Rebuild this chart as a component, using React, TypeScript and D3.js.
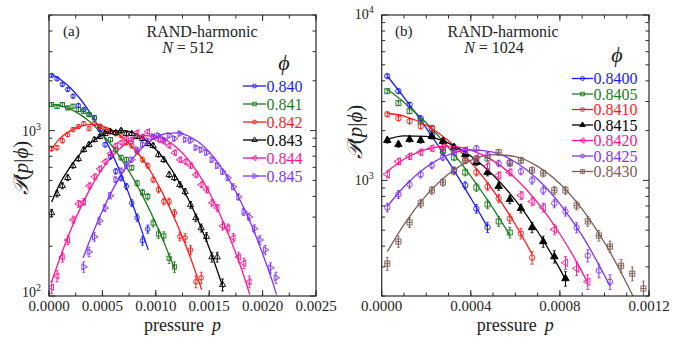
import React from 'react';
import * as d3 from 'd3';

// ---------- data ----------
const LEFT_BINS = [0.000025,0.000075,0.000125,0.000175,0.000225,0.000275,0.000325,0.000375,0.000425,0.000475,0.000525,0.000575,0.000625,0.000675,0.000725,0.000775,0.000825,0.000875,0.000925,0.000975,0.001025,0.001075,0.001125,0.001175,0.001225,0.001275,0.001325,0.001375,0.001425,0.001475,0.001525,0.001575,0.001625,0.001675,0.001725,0.001775,0.001825,0.001875,0.001925,0.001975,0.002025,0.002075,0.002125];
const RIGHT_BINS = [0.000025,0.000075,0.000125,0.000175,0.000225,0.000275,0.000325,0.000375,0.000425,0.000475,0.000525,0.000575,0.000625,0.000675,0.000725,0.000775,0.000825,0.000875,0.000925,0.000975,0.001025,0.001075,0.001125,0.001175];

const LEFT_LABELS = ['0.840','0.841','0.842','0.843','0.844','0.845'];
const LEFT_START = [0,0,0,0,0,6];
const L840 = [2154,2057,1900,1772,1614,1418,1341,1250,1199,1014,822,696,567,517,460,365,298,216,254];
const L841 = [1437,1400,1437,1372,1405,1340,1308,1250,1194,1062,990,882,767,686,667,596,481,423,399,276,237,231,169,150];
const L842 = [778,789,870,946,1014,1057,1103,1028,1103,1057,1014,986,959,933,846,811,746,667,614,505,439,373,373,318,229,225,190,122,129];
const L843 = [318,415,464,519,614,676,767,823,882,920,959,986,972,1000,959,959,920,894,834,811,716,667,541,519,471,427,356,297,258,228,172,172,117];
const L844 = [113,132,172,218,289,361,371,464,526,588,649,726,811,846,894,882,972,920,986,920,882,858,811,736,667,649,614,541,471,439,366,341,265,258,225,172,158,122];
const L845 = [150,185,228,285,341,404,505,572,614,667,767,823,870,920,933,882,933,894,959,882,870,789,767,736,667,614,565,519,458,398,323,301,255,218,190,148,129];

const FL840 = [[0.000025,2190],[0.0001,2051],[0.0002,1815],[0.0003,1531],[0.0004,1238],[0.0005,957],[0.0006,706],[0.0007,497],[0.0008,335],[0.0009,216],[0.00093,190]];
const FL841 = [[0.000025,1437],[0.0001,1415],[0.0002,1347],[0.0003,1240],[0.0004,1104],[0.0005,951],[0.0006,792],[0.0007,639],[0.0008,499],[0.0009,376],[0.001,275],[0.0011,194],[0.00118,144]];
const FL842 = [[0.000025,775],[0.0001,894],[0.0002,998],[0.0003,1066],[0.0004,1090],[0.0005,1066],[0.0006,1000],[0.0007,897],[0.0008,771],[0.0009,640],[0.001,499],[0.0011,376],[0.0012,271],[0.0013,188],[0.0014,124],[0.00143,109]];
const FL843 = [[0.000025,370],[0.0001,475],[0.0002,605],[0.0003,736],[0.0004,853],[0.0005,942],[0.0006,994],[0.0007,1001],[0.0008,962],[0.0009,882],[0.001,771],[0.0011,644],[0.0012,512],[0.0013,390],[0.0014,282],[0.0015,195],[0.0016,128],[0.00163,112]];
const FL844 = [[0.000025,122],[0.0001,168],[0.0002,248],[0.0003,347],[0.0004,463],[0.0005,588],[0.0006,711],[0.0007,817],[0.0008,896],[0.0009,933],[0.001,925],[0.0011,874],[0.0012,785],[0.0013,672],[0.0014,547],[0.0015,424],[0.0016,312],[0.0017,219],[0.0018,147],[0.00188,102]];
const FL845 = [[0.00032,170],[0.0004,231],[0.0005,328],[0.0006,444],[0.0007,571],[0.0008,699],[0.0009,817],[0.001,909],[0.0011,962],[0.0012,970],[0.0013,931],[0.0014,853],[0.0015,743],[0.0016,616],[0.0017,487],[0.0018,368],[0.0019,264],[0.002,180],[0.0021,118],[0.00213,102]];

const RIGHT_LABELS = ['0.8400','0.8405','0.8410','0.8415','0.8420','0.8425','0.8430'];
const R8400 = [4268,3463,2869,2375,1900,1479,1150,933,674,521];
const R8405 = [3463,2929,2620,2278,2066,1520,1378,1118,907,716,565,484];
const R8410 = [2512,2375,2278,2125,2066,1723,1563,1322,1118,920,778,588,477,341];
const R8415 = [1748,1652,1772,1748,1848,1723,1585,1437,1285,1118,920,767,677,519,427,346,255];
const R8420 = [1087,1304,1398,1479,1563,1585,1541,1520,1360,1216,1072,1118,811,746,686,505,318,293,244];
const R8425 = [686,823,946,1087,1233,1378,1479,1520,1563,1418,1268,1285,1134,1000,870,726,649,519,351,285,244];
const R8430 = [314,427,557,726,870,972,1134,1322,1341,1360,1479,1268,1322,1150,1103,870,870,705,565,464,398,305,273,222];

const FR8400 = [[0.000025,4276],[0.0001,3175],[0.00015,2576],[0.0002,2068],[0.00025,1645],[0.0003,1297],[0.00035,1011],[0.0004,782],[0.00045,600],[0.000475,522]];
const FR8405 = [[0.000025,3562],[0.0001,2970],[0.0002,2221],[0.0003,1578],[0.0004,1062],[0.0005,677],[0.000575,466]];
const FR8410 = [[0.000025,2547],[0.0001,2449],[0.0002,2154],[0.0003,1735],[0.0004,1285],[0.0005,870],[0.0006,541],[0.000675,358]];
const FR8415 = [[0.000025,1772],[0.0001,1861],[0.0002,1845],[0.0003,1680],[0.0004,1406],[0.0005,1077],[0.0006,759],[0.0007,491],[0.0008,291],[0.000825,252]];
const FR8420 = [[0.000025,1134],[0.0001,1341],[0.0002,1541],[0.0003,1610],[0.0004,1526],[0.0005,1316],[0.0006,1030],[0.0007,734],[0.0008,474],[0.0009,279],[0.000925,240]];
const FR8425 = [[0.000025,696],[0.0001,915],[0.0002,1204],[0.0003,1429],[0.0004,1531],[0.0005,1480],[0.0006,1291],[0.0007,1017],[0.0008,722],[0.0009,463],[0.001,267],[0.001025,230]];
const FR8430 = [[0.000025,371],[0.0001,541],[0.0002,811],[0.0003,1092],[0.0004,1320],[0.0005,1433],[0.0006,1392],[0.0007,1216],[0.0008,954],[0.0009,670],[0.001,421],[0.0011,238],[0.00113,197]];

const LEFT_XTICKS = [0, 0.0005, 0.001, 0.0015, 0.002, 0.0025];
const LEFT_XTICK_LABELS = ['0.0000','0.0005','0.0010','0.0015','0.0020','0.0025'];
const RIGHT_XTICKS = [0, 0.0004, 0.0008, 0.0012];
const RIGHT_XTICK_LABELS = ['0.0000','0.0004','0.0008','0.0012'];

// ---------- styles ----------
const COLORS = ['#1c1cff', '#1f7a1f', '#ff1a1a', '#000000', '#ff1493', '#7f33ff', '#7d5e57'];
const SERIF = "'Liberation Serif', 'Times New Roman', Tinos, 'DejaVu Serif', serif";
const TXT = { fontFamily: SERIF };

type Series = { label: string; color: string; shape: string; bins: number[]; start: number; values: number[]; fit: number[][] };

function Marker({ shape, color, x, y, r }: { shape: string; color: string; x: number; y: number; r: number }) {
  const area = Math.PI * r * r;
  const sw = 0.9;
  if (shape === 'circle') return <circle cx={x} cy={y} r={r * 0.85} fill="none" stroke={color} strokeWidth={sw} />;
  if (shape === 'square') return <rect x={x - r * 0.78} y={y - r * 0.78} width={r * 1.56} height={r * 1.56} fill="none" stroke={color} strokeWidth={sw} />;
  if (shape === 'squareplus') return (
    <g stroke={color} strokeWidth={sw} fill="none">
      <rect x={x - r * 0.8} y={y - r * 0.8} width={r * 1.6} height={r * 1.6} />
      <line x1={x - r * 0.8} x2={x + r * 0.8} y1={y} y2={y} />
      <line x1={x} x2={x} y1={y - r * 0.8} y2={y + r * 0.8} />
    </g>
  );
  const tri = d3.symbol(d3.symbolTriangle, area * 0.75)() as string;
  if (shape === 'triangle') return <path d={tri} transform={`translate(${x},${y})`} fill="none" stroke={color} strokeWidth={sw} />;
  if (shape === 'ftriangle') return <path d={tri} transform={`translate(${x},${y})`} fill={color} stroke={color} strokeWidth={sw} />;
  if (shape === 'ltriangle') return <path d={tri} transform={`translate(${x},${y}) rotate(-90)`} fill="none" stroke={color} strokeWidth={sw} />;
  if (shape === 'rtriangle') return <path d={tri} transform={`translate(${x},${y}) rotate(90)`} fill="none" stroke={color} strokeWidth={sw} />;
  return null;
}

type PanelCfg = {
  id: string;
  left: number; right: number; top: number; bottom: number;
  xDomain: [number, number]; yDomain: [number, number];
  xTicks: number[]; xTickLabels: string[]; xMinorStep: number;
  yMajor: number[]; yMajorLabels: string[]; yLabelDy: number[];
  series: Series[];
  r: number; errK: number;
  tag: string; title1: string; nValue: string;
  tagX: number; titleX: number; nX: number;
  phiX: number; phiY: number;
  legX1: number; legX2: number; legY0: number; legDy: number;
  yTitleX: number; yTitleY: number;
};

function Panel({ c }: { c: PanelCfg }) {
  const x = d3.scaleLinear().domain(c.xDomain).range([c.left, c.right]);
  const y = d3.scaleLog().domain(c.yDomain).range([c.bottom, c.top]);
  const line = d3.line<number[]>().x(d => x(d[0])).y(d => y(d[1])).curve(d3.curveMonotoneX);

  const minorX = d3.range(c.xDomain[0], c.xDomain[1] + 1e-9, c.xMinorStep);
  const minorY: number[] = [];
  for (let dec = 100; dec < c.yDomain[1]; dec *= 10) {
    for (let m = 1; m < 10; m++) {
      const v = dec * m;
      if (v >= c.yDomain[0] - 1e-6 && v <= c.yDomain[1] + 1e-6 && !c.yMajor.includes(v)) minorY.push(v);
    }
  }
  const cx = (c.left + c.right) / 2;
  return (
    <g>
      <defs>
        <clipPath id={`clip-${c.id}`}>
          <rect x={c.left} y={c.top} width={c.right - c.left} height={c.bottom - c.top} />
        </clipPath>
      </defs>
      <g clipPath={`url(#clip-${c.id})`}>
        {c.series.map((s, i) => (
          <path key={'f' + i} d={line(s.fit) as string} fill="none" stroke={s.color} strokeWidth={1.3} />
        ))}
        {c.series.map((s, i) => (
          <g key={'p' + i}>
            {s.values.map((v, j) => {
              const px = x(s.bins[s.start + j]);
              const rel = c.errK / Math.sqrt(v);
              const y1 = y(v * (1 + rel)), y2 = y(v * (1 - rel));
              return (
                <g key={j}>
                  <line x1={px} x2={px} y1={y1} y2={y2} stroke={s.color} strokeWidth={1} />
                  <line x1={px - 1.5} x2={px + 1.5} y1={y1} y2={y1} stroke={s.color} strokeWidth={0.8} />
                  <line x1={px - 1.5} x2={px + 1.5} y1={y2} y2={y2} stroke={s.color} strokeWidth={0.8} />
                  <Marker shape={s.shape} color={s.color} x={px} y={y(v)} r={c.r} />
                </g>
              );
            })}
          </g>
        ))}
      </g>
      <rect x={c.left} y={c.top} width={c.right - c.left} height={c.bottom - c.top} fill="none" stroke="#2a2a2a" strokeWidth={1.2} />
      {minorX.map((t, i) => (
        <g key={'mx' + i} stroke="#2a2a2a" strokeWidth={1}>
          <line x1={x(t)} x2={x(t)} y1={c.bottom} y2={c.bottom - 3.5} />
          <line x1={x(t)} x2={x(t)} y1={c.top} y2={c.top + 3.5} />
        </g>
      ))}
      {c.xTicks.map((t, i) => (
        <g key={'x' + i}>
          <line x1={x(t)} x2={x(t)} y1={c.bottom} y2={c.bottom - 6} stroke="#2a2a2a" />
          <line x1={x(t)} x2={x(t)} y1={c.top} y2={c.top + 6} stroke="#2a2a2a" />
          <text x={x(t)} y={c.bottom + 15} textAnchor="middle" fontSize={15} style={TXT} fill="#222">{c.xTickLabels[i]}</text>
        </g>
      ))}
      {minorY.map((t, i) => (
        <g key={'my' + i} stroke="#2a2a2a" strokeWidth={1}>
          <line x1={c.left} x2={c.left + 3.5} y1={y(t)} y2={y(t)} />
          <line x1={c.right} x2={c.right - 3.5} y1={y(t)} y2={y(t)} />
        </g>
      ))}
      {c.yMajor.map((t, i) => (
        <g key={'y' + i}>
          <line x1={c.left} x2={c.left + 6} y1={y(t)} y2={y(t)} stroke="#2a2a2a" />
          <line x1={c.right} x2={c.right - 6} y1={y(t)} y2={y(t)} stroke="#2a2a2a" />
          <text x={c.left - 8} y={y(t) + c.yLabelDy[i]} textAnchor="end" fontSize={14} style={TXT} fill="#222">
            10<tspan dy={-6} fontSize={10}>{c.yMajorLabels[i]}</tspan>
          </text>
        </g>
      ))}
      <text x={cx} y={331} textAnchor="middle" fontSize={18} style={TXT} fill="#222">
        pressure<tspan dx={8} fontStyle="italic">p</tspan>
      </text>
      <text transform={`translate(${c.yTitleX},${c.yTitleY}) rotate(-90)`} textAnchor="middle" fontSize={21} style={TXT} fill="#222">
        <tspan style={{ fontFamily: "'DejaVu Serif', serif" }} fontStyle="italic">𝒫</tspan>(<tspan fontStyle="italic">p</tspan>|<tspan fontStyle="italic">ϕ</tspan>)
      </text>
      <text x={c.tagX} y={36} fontSize={15} style={TXT} fill="#222">{c.tag}</text>
      <text x={c.titleX} y={37} textAnchor="middle" fontSize={16} style={TXT} fill="#222">{c.title1}</text>
      <text x={c.nX} y={53} textAnchor="middle" fontSize={16} style={TXT} fill="#222">
        <tspan fontStyle="italic">N</tspan> = {c.nValue}
      </text>
      <text x={c.phiX} y={c.phiY} textAnchor="middle" fontSize={22} fontStyle="italic" style={TXT} fill="#222">ϕ</text>
      {c.series.map((s, i) => {
        const ly = c.legY0 + i * c.legDy;
        return (
          <g key={'l' + i}>
            <line x1={c.legX1} x2={c.legX2} y1={ly} y2={ly} stroke={s.color} strokeWidth={1.3} />
            <Marker shape={s.shape} color={s.color} x={(c.legX1 + c.legX2) / 2} y={ly} r={2.3} />
            <text x={c.legX2 + 0.5} y={ly + 5.5} fontSize={16} style={TXT} fill={s.color}>{s.label}</text>
          </g>
        );
      })}
    </g>
  );
}

const LEFT_VALUES = [L840, L841, L842, L843, L844, L845];
const LEFT_FITS = [FL840, FL841, FL842, FL843, FL844, FL845];
const LEFT_SHAPES = ['circle', 'square', 'circle', 'triangle', 'ltriangle', 'rtriangle'];
const RIGHT_VALUES = [R8400, R8405, R8410, R8415, R8420, R8425, R8430];
const RIGHT_FITS = [FR8400, FR8405, FR8410, FR8415, FR8420, FR8425, FR8430];
const RIGHT_SHAPES = ['circle', 'square', 'circle', 'ftriangle', 'ltriangle', 'circle', 'squareplus'];

const leftCfg: PanelCfg = {
  id: 'a', left: 49, right: 316, top: 15, bottom: 296,
  xDomain: [0, 0.0025], yDomain: [100, 5000],
  xTicks: LEFT_XTICKS, xTickLabels: LEFT_XTICK_LABELS, xMinorStep: 0.00025,
  yMajor: [100, 1000], yMajorLabels: ['2', '3'], yLabelDy: [1, 5],
  series: LEFT_LABELS.map((l, i) => ({ label: l, color: COLORS[i], shape: LEFT_SHAPES[i], bins: LEFT_BINS, start: LEFT_START[i], values: LEFT_VALUES[i], fit: LEFT_FITS[i] })),
  r: 2.7, errK: 0.9,
  tag: '(a)', title1: 'RAND-harmonic', nValue: '512', tagX: 63, titleX: 202, nX: 188,
  phiX: 284, phiY: 70,
  legX1: 243, legX2: 266, legY0: 86, legDy: 18,
  yTitleX: 28, yTitleY: 168,
};

const rightCfg: PanelCfg = {
  id: 'b', left: 381.7, right: 649, top: 15, bottom: 296,
  xDomain: [0, 0.0012], yDomain: [200, 10000],
  xTicks: RIGHT_XTICKS, xTickLabels: RIGHT_XTICK_LABELS, xMinorStep: 0.0001,
  yMajor: [1000, 10000], yMajorLabels: ['3', '4'], yLabelDy: [5, 4],
  series: RIGHT_LABELS.map((l, i) => ({ label: l, color: COLORS[i], shape: RIGHT_SHAPES[i], bins: RIGHT_BINS, start: 0, values: RIGHT_VALUES[i], fit: RIGHT_FITS[i] })),
  r: 3.2, errK: 1.6,
  tag: '(b)', title1: 'RAND-harmonic', nValue: '1024', tagX: 395, titleX: 503, nX: 494,
  phiX: 617, phiY: 62,
  legX1: 572, legX2: 593, legY0: 78.5, legDy: 15.5,
  yTitleX: 362, yTitleY: 132,
};

export default function App() {
  return (
    <svg width={687} height={339} viewBox="0 0 687 339" style={{ position: 'absolute', left: 0, top: 0, background: 'white' }}>
      <rect x={0} y={0} width={687} height={339} fill="white" />
      <Panel c={leftCfg} />
      <Panel c={rightCfg} />
    </svg>
  );
}
